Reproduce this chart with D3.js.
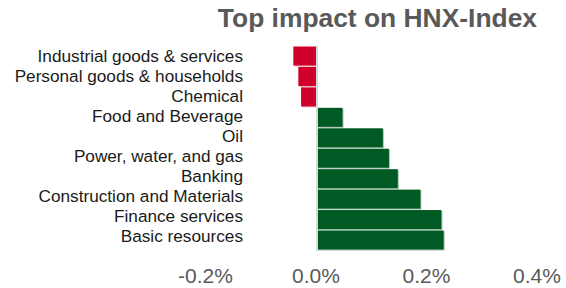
<!DOCTYPE html>
<html>
<head>
<meta charset="utf-8">
<script src="https://cdn.jsdelivr.net/npm/d3@7"></script>
<style>
  body { margin: 0; background: #fff; }
  text { font-family: "Liberation Sans", Arial, sans-serif; }
</style>
</head>
<body>
<svg width="566" height="288"></svg>
<script>
// sectors, top to bottom
const sectors = ['Industrial goods & services', 'Personal goods & households', 'Chemical',
  'Food and Beverage', 'Oil', 'Power, water, and gas', 'Banking',
  'Construction and Materials', 'Finance services', 'Basic resources'];
// impact in %
const impact = [-0.041, -0.032, -0.027, 0.048, 0.121, 0.132, 0.148, 0.189, 0.227, 0.231];
const ticks = [-0.2, 0, 0.2, 0.4];

const data = sectors.map((s, i) => ({ name: s, v: impact[i] }));

const svg = d3.select('svg');

const x = d3.scaleLinear().domain([-0.2, 0.4]).range([205.5, 537]);
const y = d3.scaleBand().domain(sectors).range([46.5, 249.5]).paddingInner(0.07);
// labels sit on a slightly tighter grid than the bars
const yl = d3.scalePoint().domain(sectors).range([56.3, 235.5]);

svg.append('text')
  .attr('x', 537).attr('y', 27)
  .attr('text-anchor', 'end')
  .attr('font-size', 26.4).attr('font-weight', 'bold')
  .attr('fill', '#595959')
  .text('Top impact on HNX-Index');

// shadow edge under bars
svg.selectAll('rect.shadow').data(data).enter().append('rect')
  .attr('class', 'shadow')
  .attr('x', d => Math.min(x(0), x(d.v)) + 1)
  .attr('y', d => y(d.name) + 1)
  .attr('width', d => Math.abs(x(d.v) - x(0)))
  .attr('height', y.bandwidth())
  .attr('fill', d => d.v < 0 ? '#e8b0bc' : '#a9c2b0');

svg.selectAll('rect.bar').data(data).enter().append('rect')
  .attr('class', 'bar')
  .attr('x', d => Math.min(x(0), x(d.v)))
  .attr('y', d => y(d.name))
  .attr('width', d => Math.abs(x(d.v) - x(0)))
  .attr('height', y.bandwidth())
  .attr('fill', d => d.v < 0 ? '#d0002c' : '#005a24');

// zero line
svg.append('line')
  .attr('x1', x(0) + 1).attr('x2', x(0) + 1)
  .attr('y1', 46).attr('y2', 251)
  .attr('stroke', '#d9d9d9').attr('stroke-width', 2);

svg.selectAll('text.cat').data(data).enter().append('text')
  .attr('class', 'cat')
  .attr('x', 243)
  .attr('y', d => yl(d.name))
  .attr('dy', '0.35em')
  .attr('text-anchor', 'end')
  .attr('font-size', 17.2)
  .attr('fill', '#1a1a1a')
  .text(d => d.name);

svg.selectAll('text.tick').data(ticks).enter().append('text')
  .attr('class', 'tick')
  .attr('x', d => x(d))
  .attr('y', 283)
  .attr('text-anchor', 'middle')
  .attr('font-size', 21)
  .attr('fill', '#595959')
  .text(d => d.toFixed(1) + '%');
</script>
</body>
</html>
